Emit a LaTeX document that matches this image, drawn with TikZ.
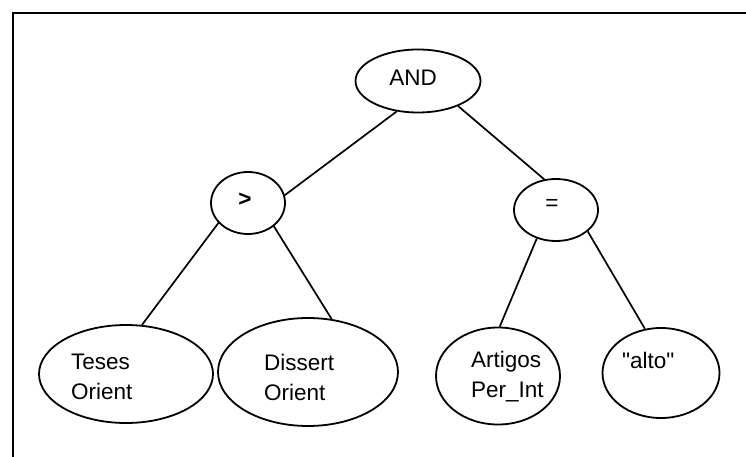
\documentclass[tikz,border=0pt]{standalone}
\usepackage{fontspec}
\setmainfont{Liberation Sans}[Ligatures=TeXOff]
\usetikzlibrary{shapes.geometric}
\begin{document}
\begin{tikzpicture}[x=1pt,y=-1pt,
  oval/.style={draw,ellipse,line width=1.8pt,inner sep=0pt},
  lbl/.style={font=\fontsize{22.5}{30}\selectfont,inner sep=0pt,align=left},
  edge/.style={line width=1.7pt}]
\useasboundingbox (0,0) rectangle (746,457);
\draw[line width=1.8pt] (13,457) -- (13,13) -- (746,13);
% ellipses
\node[oval,minimum width=125pt,minimum height=63pt] (and) at (418,81) {};
\node[oval,minimum width=74pt,minimum height=62pt] (gt) at (248,203) {};
\node[oval,minimum width=84pt,minimum height=62pt] (eq) at (556,210) {};
\node[oval,minimum width=174pt,minimum height=98pt] (teses) at (126,374) {};
\node[oval,minimum width=180pt,minimum height=108pt] (dissert) at (308,372) {};
\node[oval,minimum width=124pt,minimum height=97pt] (artigos) at (498,376) {};
\node[oval,minimum width=117pt,minimum height=90pt] (alto) at (661,373) {};
% texts
\node[lbl] (tand) at (413,78) {AND};
\node[lbl] (tgt) at (245,200) {\textbf{>}};
\node[lbl] (teq) at (552,205) {=};
\node[lbl,anchor=west] (tteses) at (71,377) {Teses\\Orient};
\node[lbl,anchor=west] (tdissert) at (264,377) {Dissert\\Orient};
\node[lbl,anchor=west] (tartigos) at (471,377) {Artigos\\Per\_Int};
\node[lbl,anchor=west] (talto) at (622,360) {"alto"};
% edges
\draw[edge] (and.235) -- (gt.12);
\draw[edge] (and.328) -- (eq.111);
\draw[edge] (gt.214) -- (teses.72);
\draw[edge] (gt.318) -- (dissert.66);
\draw[edge] (eq.236) -- (artigos.88);
\draw[edge] (eq.326) -- (alto.110);
\end{tikzpicture}
\end{document}
